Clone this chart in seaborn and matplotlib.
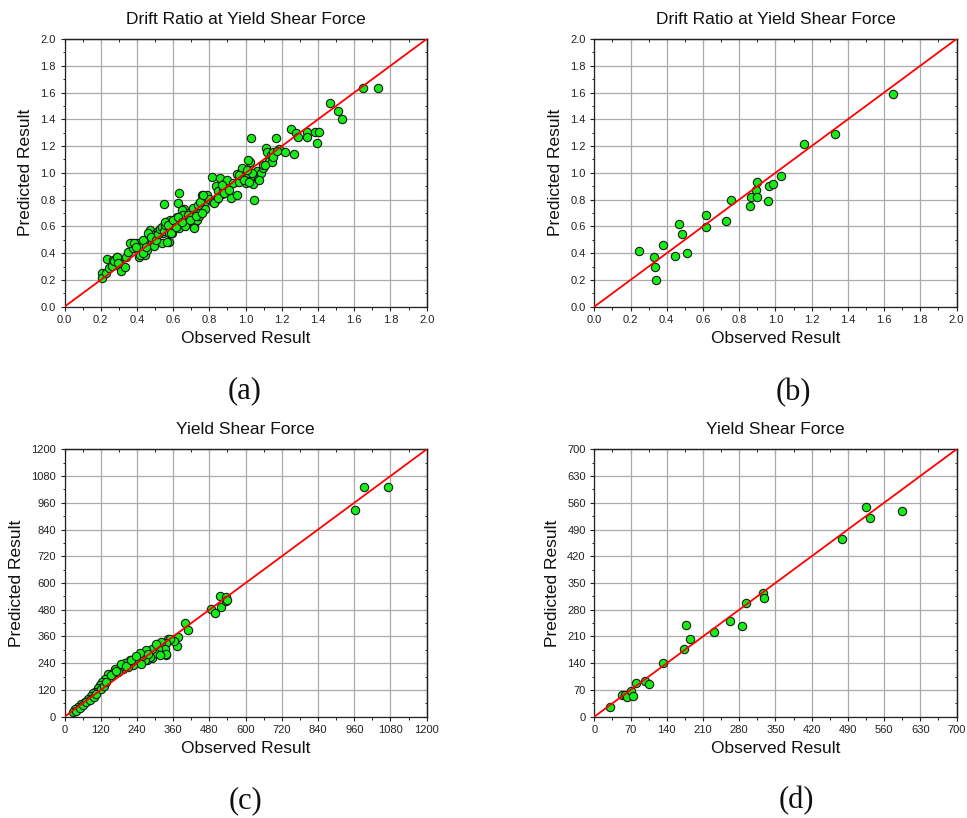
import numpy as np
import pandas as pd
import matplotlib
matplotlib.use("Agg")
import matplotlib.pyplot as plt
import seaborn as sns
from matplotlib.ticker import MultipleLocator, FormatStrFormatter

# ---------------------------------------------------------------------------
# Data: observed vs predicted values
# ---------------------------------------------------------------------------
# (a) drift ratio at yield shear force – training set
obs_a = [
    0.206, 0.206, 0.234, 0.230, 0.248, 0.270, 0.289, 0.280, 0.261, 0.300,
    0.311, 0.335, 0.340, 0.348, 0.372, 0.390, 0.381, 0.403, 0.414, 0.427,
    0.436, 0.442, 0.456, 0.473, 0.482, 0.495, 0.506, 0.519, 0.532, 0.537,
    0.543, 0.552, 0.559, 0.570, 0.577, 0.583, 0.594, 0.602, 0.611, 0.626,
    0.633, 0.635, 0.648, 0.660, 0.666, 0.675, 0.688, 0.703, 0.716, 0.721,
    0.730, 0.740, 0.745, 0.753, 0.762, 0.771, 0.776, 0.789, 0.800, 0.817,
    0.822, 0.835, 0.844, 0.850, 0.859, 0.868, 0.877, 0.887, 0.896, 0.905,
    0.920, 0.933, 0.951, 0.955, 0.966, 0.979, 0.988, 1.001, 1.012, 1.025,
    1.030, 1.038, 1.043, 1.047, 1.062, 1.071, 1.084, 1.098, 1.111, 1.117,
    1.131, 1.141, 1.154, 1.168, 1.186, 1.217, 1.251, 1.266, 1.281, 1.290,
    1.337, 1.337, 1.384, 1.397, 1.406, 1.466, 1.508, 1.531, 1.647, 1.730,
    0.273, 0.292, 0.295, 0.362, 0.384, 0.393, 0.417, 0.435, 0.448, 0.463,
    0.476, 0.503, 0.516, 0.527, 0.536, 0.549, 0.555, 0.568, 0.577, 0.583,
    0.597, 0.623, 0.650, 0.656, 0.555, 0.573, 0.586, 0.601, 0.616, 0.628,
    0.647, 0.684, 0.693, 0.708, 0.715, 0.726, 0.739, 0.748, 0.758, 0.766,
    0.826, 0.849, 0.868, 0.881, 0.910, 0.965, 0.991, 1.015, 1.020, 1.034,
    1.076, 1.098, 1.144, 1.150, 1.172, 1.107, 1.006,
]
pred_a = [
    0.249, 0.217, 0.354, 0.249, 0.286, 0.349, 0.369, 0.311, 0.304, 0.324,
    0.266, 0.299, 0.374, 0.408, 0.473, 0.466, 0.436, 0.478, 0.374, 0.448,
    0.498, 0.386, 0.423, 0.573, 0.486, 0.456, 0.548, 0.565, 0.585, 0.473,
    0.548, 0.765, 0.635, 0.590, 0.486, 0.648, 0.550, 0.618, 0.640, 0.772,
    0.847, 0.585, 0.648, 0.727, 0.603, 0.672, 0.697, 0.685, 0.593, 0.635,
    0.648, 0.680, 0.722, 0.777, 0.834, 0.772, 0.730, 0.834, 0.802, 0.971,
    0.780, 0.902, 0.802, 0.864, 0.959, 0.839, 0.884, 0.927, 0.946, 0.859,
    0.809, 0.922, 0.834, 0.991, 0.934, 1.034, 0.971, 0.927, 1.001, 1.083,
    1.263, 0.946, 0.914, 0.797, 1.016, 0.951, 1.001, 1.034, 1.183, 1.158,
    1.088, 1.131, 1.158, 1.258, 1.178, 1.153, 1.328, 1.138, 1.300, 1.270,
    1.308, 1.265, 1.308, 1.225, 1.303, 1.519, 1.465, 1.400, 1.631, 1.631,
    0.344, 0.374, 0.324, 0.474, 0.478, 0.448, 0.386, 0.403, 0.448, 0.553,
    0.523, 0.498, 0.543, 0.578, 0.598, 0.568, 0.610, 0.486, 0.548, 0.628,
    0.598, 0.672, 0.722, 0.685, 0.635, 0.610, 0.553, 0.648, 0.598, 0.672,
    0.635, 0.685, 0.648, 0.735, 0.586, 0.678, 0.760, 0.785, 0.698, 0.835,
    0.777, 0.810, 0.909, 0.847, 0.872, 0.984, 0.947, 1.096, 0.934, 0.997,
    0.947, 1.059, 1.083, 1.121, 1.165, 1.059, 1.021,
]

# (b) drift ratio at yield shear force – testing set
obs_b = [
    0.245, 0.328, 0.335, 0.341, 0.378, 0.447, 0.468, 0.483, 0.514, 0.617,
    0.619, 0.727, 0.753, 0.860, 0.867, 0.895, 0.897, 0.899, 0.958, 0.967,
    0.985, 1.031, 1.157, 1.331, 1.648,
]
pred_b = [
    0.414, 0.374, 0.294, 0.202, 0.464, 0.377, 0.616, 0.544, 0.404, 0.599,
    0.686, 0.643, 0.796, 0.756, 0.818, 0.875, 0.933, 0.823, 0.788, 0.900,
    0.918, 0.973, 1.217, 1.287, 1.591,
]

# (c) yield shear force – training set
obs_c = [
    962.4, 992.3, 1072.9, 484.0, 497.2, 514.9, 517.1, 533.7, 535.9, 539.3,
    397.8, 407.7, 371.3, 376.8, 342.5, 335.9, 320.4, 362.3, 329.2, 323.9,
    312.6, 305.0, 296.0, 290.7, 282.8, 271.8, 268.5, 260.9, 274.1,
    348.0, 337.0, 320.5, 331.5, 337.0, 309.4, 298.4, 289.5, 281.8, 270.7,
    265.2, 256.4, 248.6, 240.9, 232.0, 226.5, 215.5, 210.0, 198.9, 193.4,
    182.3, 176.8, 165.8, 160.2, 149.2, 143.7, 132.6, 123.8, 116.0, 110.5,
    101.7, 93.9, 86.2, 77.4, 66.3, 55.3, 44.2, 33.2, 27.6, 38.7,
    49.7, 60.8, 71.8, 82.9, 97.2, 105.0, 119.3, 130.4, 138.1, 154.7,
    171.3, 185.6, 204.4, 221.0, 237.6, 252.0, 276.3, 303.9, 315.0,
]
pred_c = [
    927.7, 1032.4, 1030.9, 481.8, 463.8, 541.6, 490.8, 535.7, 519.2, 523.9,
    420.4, 389.0, 317.4, 356.1, 348.6, 276.8, 329.2, 341.2, 311.6, 299.4,
    307.1, 284.6, 302.6, 262.2, 284.6, 296.3, 269.4, 262.2, 254.5,
    350.2, 330.7, 335.2, 305.3, 279.8, 305.3, 285.8, 305.3, 268.0, 298.0,
    253.1, 271.1, 285.8, 245.6, 260.5, 230.6, 253.1, 223.1, 241.1, 215.6,
    223.1, 200.7, 212.6, 194.7, 179.7, 191.7, 167.7, 157.3, 142.3, 127.3,
    112.3, 104.8, 92.8, 77.9, 67.4, 56.9, 44.9, 32.9, 22.5, 26.9,
    37.4, 52.4, 67.4, 74.9, 89.8, 101.8, 122.8, 137.8, 157.3, 187.2,
    205.2, 238.1, 226.1, 256.0, 271.1, 238.1, 283.3, 328.2, 275.9,
]

# (d) yield shear force – testing set
obs_d = [
    30.9, 53.5, 58.7, 63.8, 70.9, 74.1, 81.2, 97.3, 105.7, 132.8,
    172.7, 176.6, 184.3, 231.4, 262.3, 285.5, 292.6, 326.8, 328.1, 478.9,
    525.3, 533.7, 594.3,
]
pred_d = [
    25.3, 56.7, 57.6, 51.5, 68.1, 54.1, 87.3, 94.3, 84.7, 141.4,
    176.3, 239.2, 203.4, 220.8, 250.5, 236.5, 298.5, 322.9, 310.7, 465.2,
    549.9, 520.2, 538.5,
]

titles = ["Drift Ratio at Yield Shear Force", "Drift Ratio at Yield Shear Force",
          "Yield Shear Force", "Yield Shear Force"]
letters = ["(a)", "(b)", "(c)", "(d)"]
limits = [2.0, 2.0, 1200, 700]
major_steps = [0.2, 0.2, 120, 70]
tick_formats = ["%.1f", "%.1f", "%d", "%d"]

# ---------------------------------------------------------------------------
# Figure
# ---------------------------------------------------------------------------
sns.set_theme(style="ticks")
plt.rcParams["font.family"] = ["Liberation Sans", "DejaVu Sans"]
plt.rcParams["axes.linewidth"] = 0.9

W, H = 967, 818
fig = plt.figure(figsize=(W / 100, H / 100), dpi=100)

# axes boxes in pixels: left, top, right, bottom
boxes = [
    (64.5, 39.0, 426.7, 306.7),
    (594.3, 39.0, 956.5, 306.7),
    (64.5, 449.3, 426.7, 716.7),
    (594.3, 449.3, 956.5, 716.7),
]
letter_pos = [(245, 391), (793, 393), (245, 801), (796, 801)]

obs_all = [obs_a, obs_b, obs_c, obs_d]
pred_all = [pred_a, pred_b, pred_c, pred_d]

for i in range(4):
    l, t, r, b = boxes[i]
    ax = fig.add_axes([l / W, 1 - b / H, (r - l) / W, (b - t) / H])
    lim = limits[i]
    step = major_steps[i]
    df = pd.DataFrame({"Observed": obs_all[i], "Predicted": pred_all[i]})
    ref = pd.DataFrame({"x": [0, lim], "y": [0, lim]})

    sns.scatterplot(data=df, x="Observed", y="Predicted", ax=ax,
                    color="#14ee14", edgecolor="#1a1a1a", linewidth=0.8,
                    s=36, zorder=3, legend=False)
    sns.lineplot(data=ref, x="x", y="y", ax=ax, color="#ff0000",
                 linewidth=1.3, zorder=4, legend=False)

    ax.set_xlim(0, lim)
    ax.set_ylim(0, lim)
    for axis in (ax.xaxis, ax.yaxis):
        axis.set_major_locator(MultipleLocator(step))
        axis.set_minor_locator(MultipleLocator(step / 2))
        axis.set_major_formatter(FormatStrFormatter(tick_formats[i]))

    ax.grid(True, which="major", color="#ababab", linewidth=0.9, zorder=0)
    ax.set_axisbelow(True)
    for sp in ax.spines.values():
        sp.set_color("#222222")
        sp.set_linewidth(0.9)
        sp.set_visible(True)

    ax.tick_params(which="major", direction="out", length=3.2, width=0.8,
                   color="#222222", labelsize=8, pad=3, labelcolor="#222222")
    ax.tick_params(which="minor", direction="out", length=1.8, width=0.7,
                   color="#222222")

    # mirrored inward ticks on the top and right spines
    top = ax.secondary_xaxis("top")
    right = ax.secondary_yaxis("right")
    for sec in (top, right):
        sec_axis = sec.xaxis if sec is top else sec.yaxis
        sec_axis.set_major_locator(MultipleLocator(step))
        sec_axis.set_minor_locator(MultipleLocator(step / 2))
        sec.tick_params(which="major", direction="in", length=3.2, width=0.8,
                        color="#222222", labelleft=False, labelright=False,
                        labeltop=False, labelbottom=False)
        sec.tick_params(which="minor", direction="in", length=1.8, width=0.7,
                        color="#222222")
        for sp in sec.spines.values():
            sp.set_color("#222222")
            sp.set_linewidth(0.9)

    ax.set_title(titles[i], fontsize=12.5, pad=11, color="#111111")
    ax.set_xlabel("Observed Result", fontsize=12.5, labelpad=4, color="#111111")
    ax.set_ylabel("Predicted Result", fontsize=12.5, labelpad=5, color="#111111")

    lx, ly = letter_pos[i]
    fig.text(lx / W, 1 - ly / H, letters[i], ha="center", va="center",
             fontsize=22, family=["Liberation Serif", "DejaVu Serif"],
             color="#111111")

fig.savefig("out.png", dpi=100, facecolor="white")
